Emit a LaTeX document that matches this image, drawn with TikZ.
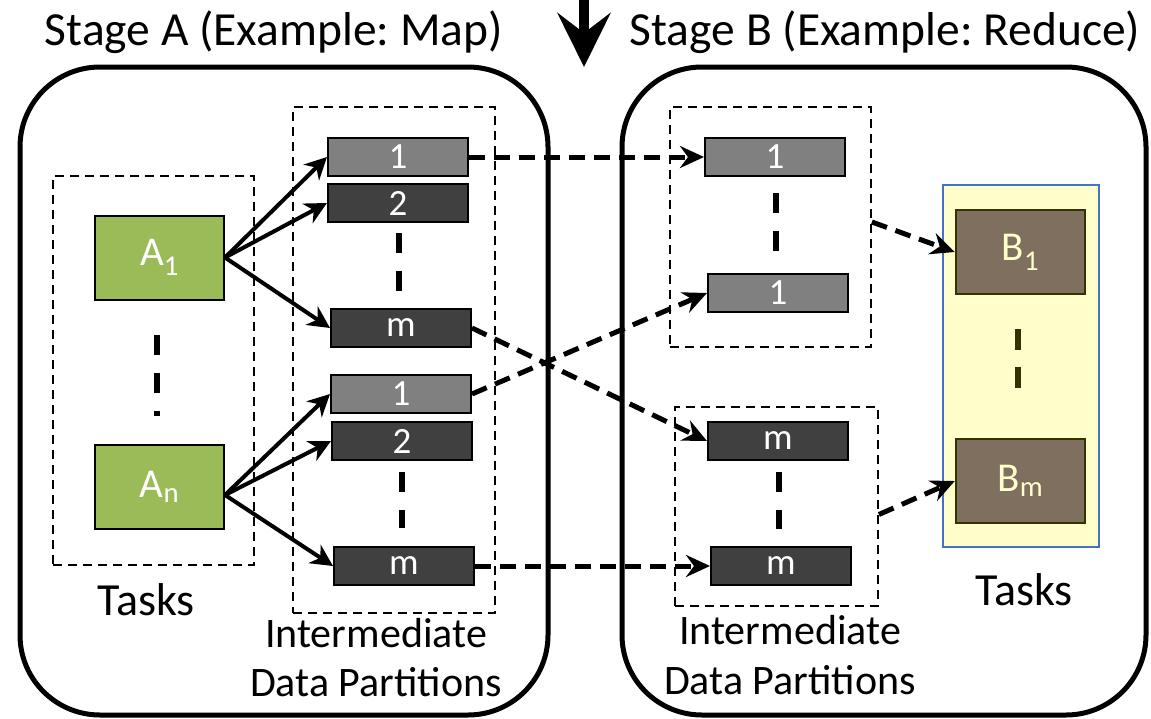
\documentclass[tikz,border=0pt]{standalone}
\usepackage{fontspec}
\setmainfont{Carlito}
\usetikzlibrary{arrows.meta,calc}
\frenchspacing
\definecolor{agreen}{HTML}{9BBB59}
\definecolor{lgray}{HTML}{808080}
\definecolor{dgray}{HTML}{404040}
\definecolor{bbrown}{HTML}{7F6F5F}
\definecolor{darkolive}{HTML}{333300}
\definecolor{lyellow}{HTML}{FFFFCC}
\definecolor{bblue}{HTML}{4472C4}
\begin{document}
\begin{tikzpicture}[x=1pt,y=-1pt,
  part/.style={draw=black, line width=2pt, minimum width=140pt, minimum height=38pt, inner sep=0pt, text=white, font=\fontsize{37}{37}\selectfont},
  lpart/.style={part, fill=lgray},
  dpart/.style={part, fill=dgray},
  atask/.style={draw=black, line width=2pt, fill=agreen, minimum width=129pt, minimum height=84pt, inner sep=0pt, text=white, font=\fontsize{41}{41}\selectfont},
  btask/.style={draw=darkolive, line width=2.5pt, fill=bbrown, minimum width=129pt, minimum height=84pt, inner sep=0pt, text=lyellow, font=\fontsize{41}{41}\selectfont},
  grp/.style={draw=black, line width=1.8pt, dash pattern=on 9pt off 6pt, inner sep=0pt},
  stagebox/.style={draw=black, line width=5pt, rounded corners=80pt},
  solidarr/.style={line width=4pt, -{Stealth[length=22pt,width=22pt,inset=7pt]}},
  dasharr/.style={line width=5pt, dash pattern=on 16pt off 9pt, -{Stealth[length=24pt,width=22pt,inset=8pt]}},
  vdash/.style={line width=6pt, dash pattern=on 20pt off 18pt},
  lbl/.style={font=\fontsize{42}{42}\selectfont, anchor=base, inner sep=0pt},
  tasklbl/.style={font=\fontsize{46}{46}\selectfont, anchor=base, inner sep=0pt},
  title/.style={font=\fontsize{47.5}{47.5}\selectfont, anchor=base, inner sep=0pt}
]
\useasboundingbox (0,0) rectangle (1151,718);

% titles and top arrow
\node[title] (ta) at (274,45) {Stage A (Example: Map)};
\node[title] (tb) at (885,45) {Stage B (Example: Reduce)};
\coordinate (arrtop) at (584,-5);
\coordinate (arrtip) at (584,67);
\draw[line width=10pt, -{Stealth[length=54pt,width=53pt,inset=20pt]}] (arrtop) -- (arrtip);

% stage boxes
\draw[stagebox] (20,67) rectangle (548,715);
\draw[stagebox] (622,67) rectangle (1146,715);

% group boxes
\node[grp, minimum width=201pt, minimum height=389pt] (tasksL) at (153.5,370.5) {};
\node[grp, minimum width=202pt, minimum height=506pt] (interL) at (394,360) {};
\node[grp, minimum width=201pt, minimum height=240pt] (interR1) at (770.5,227) {};
\node[grp, minimum width=203pt, minimum height=199pt] (interR2) at (776.5,506.5) {};
\path[fill=lyellow, draw=bblue, line width=2.2pt] (943,185) rectangle (1099,547);

% tasks
\node[atask] (a1) at (159.5,257.5) {A\textsubscript{1}};
\node[atask] (an) at (159.5,487) {A\textsubscript{n}};
\node[btask] (b1) at (1020.5,252) {B\textsubscript{1}};
\node[btask] (bm) at (1020.5,481) {B\textsubscript{m}};

% partitions left
\node[lpart] (p1) at (398,157) {1};
\node[dpart] (p2) at (398,203) {2};
\node[dpart] (pm) at (401,328) {m};
\node[lpart] (q1) at (401,394) {1};
\node[dpart] (q2) at (402,441) {2};
\node[dpart] (qm) at (404,566) {m};
% partitions right
\node[lpart] (r1) at (775,157) {1};
\node[lpart] (r2) at (778,293) {1};
\node[dpart] (s1) at (778,441) {m};
\node[dpart] (s2) at (781,566) {m};

% vertical ellipsis dashes
\draw[vdash] (157,335) -- (157,416);
\draw[vdash] (399,233) -- (399,292);
\draw[vdash] (402,472) -- (402,528);
\draw[vdash] (776,193) -- (776,251);
\draw[vdash] (779,472) -- (779,529);
\draw[vdash, draw=darkolive, dash pattern=on 21pt off 17pt] (1018,329) -- (1018,404);

% labels
\node[tasklbl] (tl) at (146,615) {Tasks};
\node[tasklbl] (tr) at (1024,605) {Tasks};
\node[lbl] (il1) at (376,647) {Intermediate};
\node[lbl] (il2) at (376,696) {Data Partitions};
\node[lbl] (ir1) at (790,644) {Intermediate};
\node[lbl] (ir2) at (790,694) {Data Partitions};

% solid arrows
\draw[solidarr] (a1.east) -- (p1.west);
\draw[solidarr] (a1.east) -- (p2.west);
\draw[solidarr] (a1.east) -- (pm.west);
\draw[solidarr] ($(an.east)+(0,8)$) -- (q1.west);
\draw[solidarr] ($(an.east)+(0,8)$) -- (q2.west);
\draw[solidarr] ($(an.east)+(0,8)$) -- (qm.west);

% dashed arrows
\draw[dasharr] (p1.east) -- (r1.west);
\draw[dasharr] (pm.east) -- (s1.west);
\draw[dasharr] (q1.east) -- (r2.west);
\draw[dasharr] (qm.east) -- (s2.west);
\draw[dasharr] ($(interR1.east)+(0,-5)$) -- (b1.west);
\draw[dasharr] ($(interR2.east)+(0,8)$) -- (bm.west);
\end{tikzpicture}
\end{document}
